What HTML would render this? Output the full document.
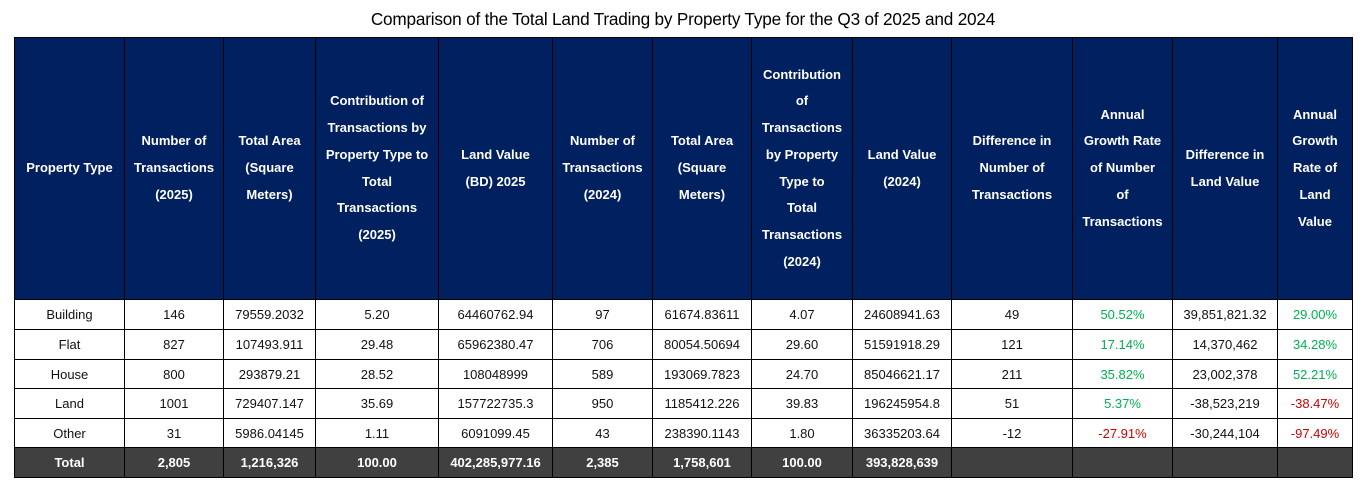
<!DOCTYPE html>
<html>
<head>
<meta charset="utf-8">
<style>
html,body{margin:0;padding:0;background:#fff;}
body{width:1366px;height:498px;position:relative;overflow:hidden;font-family:"Liberation Sans",sans-serif;}
.title{position:absolute;left:0;top:9px;width:1366px;text-align:center;font-size:17.2px;color:#000;letter-spacing:-0.2px;}
table{position:absolute;left:14px;top:37px;border-collapse:collapse;table-layout:fixed;width:1339px;}
td,th{border:1px solid #000;padding:0;text-align:center;vertical-align:middle;overflow:hidden;white-space:nowrap;}
th{background:#00205f;color:#fff;font-weight:bold;font-size:13px;line-height:26.7px;height:261px;}
td{font-size:13px;color:#111;height:29px;}
tr.r2 td{height:28px;}
.g{color:#00b050;}
.r{color:#d00000;}
tr.tot td{background:#404040;color:#fff;font-weight:bold;}
</style>
</head>
<body>
<div class="title">Comparison of the Total Land Trading by Property Type for the Q3 of 2025 and 2024</div>
<table>
<colgroup>
<col style="width:110px"><col style="width:99px"><col style="width:92px"><col style="width:123px"><col style="width:114px"><col style="width:100px"><col style="width:99px"><col style="width:101px"><col style="width:99px"><col style="width:121px"><col style="width:100px"><col style="width:105px"><col style="width:75px">
</colgroup>
<tr>
<th>Property Type</th>
<th>Number of<br>Transactions<br>(2025)</th>
<th>Total Area<br>(Square<br>Meters)</th>
<th>Contribution of<br>Transactions by<br>Property Type to<br>Total<br>Transactions<br>(2025)</th>
<th>Land Value<br>(BD) 2025</th>
<th>Number of<br>Transactions<br>(2024)</th>
<th>Total Area<br>(Square<br>Meters)</th>
<th>Contribution<br>of<br>Transactions<br>by Property<br>Type to<br>Total<br>Transactions<br>(2024)</th>
<th>Land Value<br>(2024)</th>
<th>Difference in<br>Number of<br>Transactions</th>
<th>Annual<br>Growth Rate<br>of Number<br>of<br>Transactions</th>
<th>Difference in<br>Land Value</th>
<th>Annual<br>Growth<br>Rate of<br>Land<br>Value</th>
</tr>
<tr><td>Building</td><td>146</td><td>79559.2032</td><td>5.20</td><td>64460762.94</td><td>97</td><td>61674.83611</td><td>4.07</td><td>24608941.63</td><td>49</td><td class="g">50.52%</td><td>39,851,821.32</td><td class="g">29.00%</td></tr>
<tr><td>Flat</td><td>827</td><td>107493.911</td><td>29.48</td><td>65962380.47</td><td>706</td><td>80054.50694</td><td>29.60</td><td>51591918.29</td><td>121</td><td class="g">17.14%</td><td>14,370,462</td><td class="g">34.28%</td></tr>
<tr class="r2"><td>House</td><td>800</td><td>293879.21</td><td>28.52</td><td>108048999</td><td>589</td><td>193069.7823</td><td>24.70</td><td>85046621.17</td><td>211</td><td class="g">35.82%</td><td>23,002,378</td><td class="g">52.21%</td></tr>
<tr><td>Land</td><td>1001</td><td>729407.147</td><td>35.69</td><td>157722735.3</td><td>950</td><td>1185412.226</td><td>39.83</td><td>196245954.8</td><td>51</td><td class="g">5.37%</td><td>-38,523,219</td><td class="r">-38.47%</td></tr>
<tr class="r2"><td>Other</td><td>31</td><td>5986.04145</td><td>1.11</td><td>6091099.45</td><td>43</td><td>238390.1143</td><td>1.80</td><td>36335203.64</td><td>-12</td><td class="r">-27.91%</td><td>-30,244,104</td><td class="r">-97.49%</td></tr>
<tr class="tot"><td>Total</td><td>2,805</td><td>1,216,326</td><td>100.00</td><td>402,285,977.16</td><td>2,385</td><td>1,758,601</td><td>100.00</td><td>393,828,639</td><td></td><td></td><td></td><td></td></tr>
</table>
</body>
</html>
